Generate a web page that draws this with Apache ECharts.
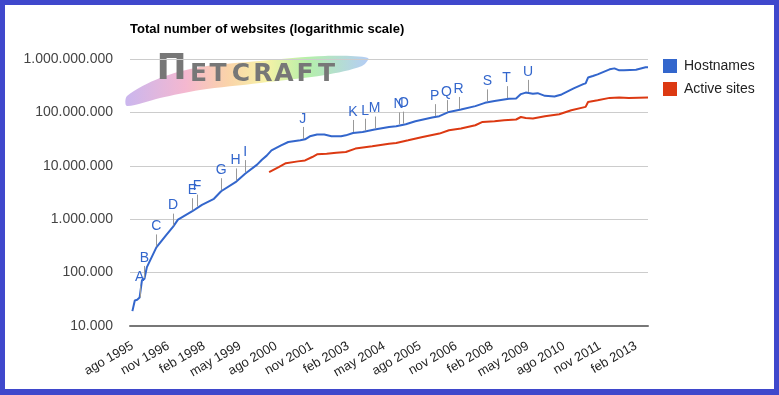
<!DOCTYPE html>
<html>
<head>
<meta charset="utf-8">
<script src="https://cdn.jsdelivr.net/npm/echarts@6/dist/echarts.min.js"></script>
<style>
html,body{margin:0;padding:0;background:#fff;}
#c{width:779px;height:395px;}
</style>
</head>
<body>
<div id="c"></div>
<script>
// Month names (Spanish) used for category labels, jul 1995 .. jul 2013
const monthNames = ['ene','feb','mar','abr','may','jun','jul','ago','sep','oct','nov','dic'];
const categories = [];
for (let y = 1995; y <= 2013; y++) {
  for (let m = 0; m < 12; m++) {
    if ((y === 1995 && m < 6) || (y === 2013 && m > 6)) continue;
    categories.push(monthNames[m] + ' ' + y);
  }
}

// Hostnames series
const hostMonths = [
  'ago 1995','sep 1995','oct 1995','nov 1995','dic 1995','ene 1996','feb 1996','mar 1996','jun 1996','oct 1996',
  'ene 1997','mar 1997','sep 1997','ene 1998','jun 1998','sep 1998','mar 1999','jul 1999','dic 1999','feb 2000',
  'abr 2000','jun 2000','oct 2000','ene 2001','jun 2001','ago 2001','oct 2001','ene 2002','abr 2002','jul 2002',
  'nov 2002','ene 2003','abr 2003','ago 2003','ene 2004','jul 2004','oct 2004','feb 2005','jun 2005','ene 2006',
  'abr 2006','ago 2006','ene 2007','jul 2007','nov 2007','mar 2008','sep 2008','dic 2008','feb 2009','abr 2009',
  'jul 2009','sep 2009','dic 2009','abr 2010','jul 2010','dic 2010','abr 2011','may 2011','jun 2011','ago 2011',
  'oct 2011','mar 2012','may 2012','jul 2012','sep 2012','feb 2013','jun 2013','jul 2013'
];
const hostValues = [
  19000, 30000, 31000, 34000, 72000, 76000, 125000, 155000, 296000, 500000,
  726000, 982000, 1410000, 1860000, 2410000, 3340000, 4940000, 7100000, 10500000, 13000000,
  15500000, 19400000, 24100000, 27900000, 30000000, 31300000, 35700000, 38500000, 38500000, 35700000,
  35700000, 37200000, 41200000, 43000000, 47700000, 53400000, 55000000, 60000000, 68400000, 80200000,
  84900000, 102000000, 113000000, 131000000, 151000000, 163000000, 180000000, 183000000, 220000000, 235000000,
  223000000, 229000000, 204000000, 199000000, 217000000, 281000000, 339000000, 350000000, 450000000, 480000000,
  516000000, 640000000, 668000000, 613000000, 613000000, 630000000, 698000000, 700000000
];

// Active sites series
const activeMonths = [
  'may 2000','sep 2000','dic 2000','may 2001','ago 2001','nov 2001','ene 2002','may 2002','sep 2002','ene 2003',
  'may 2003','dic 2003','jul 2004','oct 2004','mar 2005','sep 2005','abr 2006','ago 2006','ene 2007','jul 2007',
  'oct 2007','mar 2008','jul 2008','dic 2008','feb 2009','abr 2009','jul 2009','dic 2009','jun 2010','nov 2010',
  'may 2011','jun 2011','oct 2011','mar 2012','jul 2012','nov 2012','jul 2013'
];
const activeValues = [
  7600000, 9460000, 11200000, 12100000, 12600000, 14600000, 16400000, 16900000, 17600000, 18100000,
  21000000, 23200000, 26000000, 26700000, 30000000, 34600000, 40100000, 46200000, 49800000, 57400000,
  66200000, 68400000, 71300000, 73600000, 82000000, 78900000, 76800000, 84900000, 92500000, 110000000,
  127000000, 157000000, 169000000, 187000000, 191000000, 187000000, 191000000
];

// Annotations (letter, month, base value on the Hostnames line)
const annLetters = ['A','B','C','D','E','F','G','H','I','J','K','L','M','N','O','P','Q','R','S','T','U'];
const annMonths = ['nov 1995','ene 1996','jun 1996','ene 1997','sep 1997','nov 1997','sep 1998','mar 1999','jul 1999','jul 2001',
  'abr 2003','sep 2003','ene 2004','nov 2004','ene 2005','feb 2006','jul 2006','dic 2006','dic 2007','ago 2008','may 2009'];
const annValues = [33000, 76000, 296000, 726000, 1410000, 1650000, 3340000, 5100000, 7300000, 30500000,
  41200000, 43500000, 47700000, 57000000, 59000000, 81500000, 97000000, 111000000, 154000000, 177000000, 232000000];

const fmt = v => String(Math.round(v)).replace(/\B(?=(\d{3})+(?!\d))/g, '.');
const FONT = 'Arial, "Liberation Sans", sans-serif';

const chart = echarts.init(document.getElementById('c'), null, {renderer: 'canvas'});

const logoLetters = [
  {t: 'Π', x: 171.5, y: 70, s: 36},
  {t: 'E', x: 198.5, y: 74, s: 25},
  {t: 'T', x: 218, y: 74, s: 25},
  {t: 'C', x: 241, y: 74, s: 25},
  {t: 'R', x: 263, y: 74, s: 25},
  {t: 'A', x: 284, y: 74, s: 25},
  {t: 'F', x: 305, y: 74, s: 25},
  {t: 'T', x: 326.5, y: 74, s: 25}
];

const option = {
  animation: false,
  backgroundColor: '#fff',
  textStyle: {fontFamily: FONT},
  title: {
    text: 'Total number of websites (logarithmic scale)',
    left: 130, top: 23, padding: 0,
    textStyle: {fontSize: 13, fontWeight: 'bold', color: '#000', fontFamily: FONT}
  },
  legend: {
    data: ['Hostnames', 'Active sites'],
    orient: 'vertical',
    left: 663, top: 59, padding: 0,
    itemWidth: 14, itemHeight: 14, itemGap: 9,
    icon: 'rect',
    textStyle: {fontSize: 14, color: '#222', fontFamily: FONT, padding: [0, 0, 0, 2]}
  },
  grid: {left: 130, right: 131, top: 59, bottom: 69, containLabel: false},
  xAxis: {
    type: 'category',
    data: categories,
    boundaryGap: false,
    axisTick: {show: false},
    axisLine: {lineStyle: {color: '#777', width: 2}},
    splitLine: {show: false},
    axisLabel: {
      interval: (i) => (i - 1) % 15 === 0,
      rotate: 30, fontSize: 13, color: '#222', margin: 19, fontFamily: FONT
    }
  },
  yAxis: {
    type: 'log', logBase: 10, min: 10000, max: 1000000000,
    axisLine: {show: false},
    axisTick: {show: false},
    splitLine: {lineStyle: {color: '#cccccc', width: 1}},
    axisLabel: {formatter: fmt, fontSize: 14, color: '#444', margin: 17, fontFamily: FONT}
  },
  graphic: [
    {type: 'rect', shape: {x: 0, y: 0, width: 779, height: 5}, style: {fill: '#3f48cc'}, z: 100},
    {type: 'rect', shape: {x: 0, y: 389, width: 779, height: 6}, style: {fill: '#3f48cc'}, z: 100},
    {type: 'rect', shape: {x: 0, y: 0, width: 5, height: 395}, style: {fill: '#3f48cc'}, z: 100},
    {type: 'rect', shape: {x: 774, y: 0, width: 5, height: 395}, style: {fill: '#3f48cc'}, z: 100},
    {
      type: 'polygon', z: -10, silent: true,
      shape: {
        points: [[127, 96], [160, 78], [200, 67], [260, 61], [325, 56], [368, 58], [362, 66], [325, 75], [260, 83], [200, 90], [160, 98], [127, 106]],
        smooth: 0.3
      },
      style: {
        opacity: 0.8,
        fill: new echarts.graphic.LinearGradient(0, 0, 1, 0, [
          {offset: 0, color: '#bda4ea'},
          {offset: 0.25, color: '#f2a6c4'},
          {offset: 0.42, color: '#f9c894'},
          {offset: 0.58, color: '#f4ee90'},
          {offset: 0.75, color: '#a2ec94'},
          {offset: 1, color: '#a2c0f4'}
        ])
      }
    }
  ].concat(logoLetters.map(l => ({
    type: 'text', z: -5, silent: true,
    style: {text: l.t, x: l.x, y: l.y, align: 'center', verticalAlign: 'middle',
      font: 'bold ' + l.s + 'px "DejaVu Sans", sans-serif', fill: '#777777'}
  }))),
  series: [
    {
      name: 'Hostnames', type: 'line', showSymbol: false, symbol: 'none',
      data: hostMonths.map((m, i) => [m, hostValues[i]]),
      lineStyle: {color: '#3366cc', width: 2}, itemStyle: {color: '#3366cc'}, z: 3
    },
    {
      name: 'Active sites', type: 'line', showSymbol: false, symbol: 'none',
      data: activeMonths.map((m, i) => [m, activeValues[i]]),
      lineStyle: {color: '#dc3912', width: 2}, itemStyle: {color: '#dc3912'}, z: 3
    },
    {
      name: 'annotations', type: 'custom', coordinateSystem: 'cartesian2d',
      encode: {x: 0, y: 1},
      data: annMonths.map((m, i) => [m, annValues[i]]),
      z: 4, silent: true,
      renderItem: function (params, api) {
        const p = api.coord([api.value(0), api.value(1)]);
        const x = Math.round(p[0]) + 0.5;
        return {
          type: 'group',
          children: [
            {type: 'line', shape: {x1: x, y1: p[1] - 1, x2: x, y2: p[1] - 13}, style: {stroke: '#999', lineWidth: 1}},
            {type: 'text', style: {text: annLetters[params.dataIndex], x: p[0], y: p[1] - 14,
              align: 'center', verticalAlign: 'bottom', fill: '#3366cc', font: '14px Arial, "Liberation Sans", sans-serif'}}
          ]
        };
      }
    }
  ]
};
chart.setOption(option);
</script>
</body>
</html>
